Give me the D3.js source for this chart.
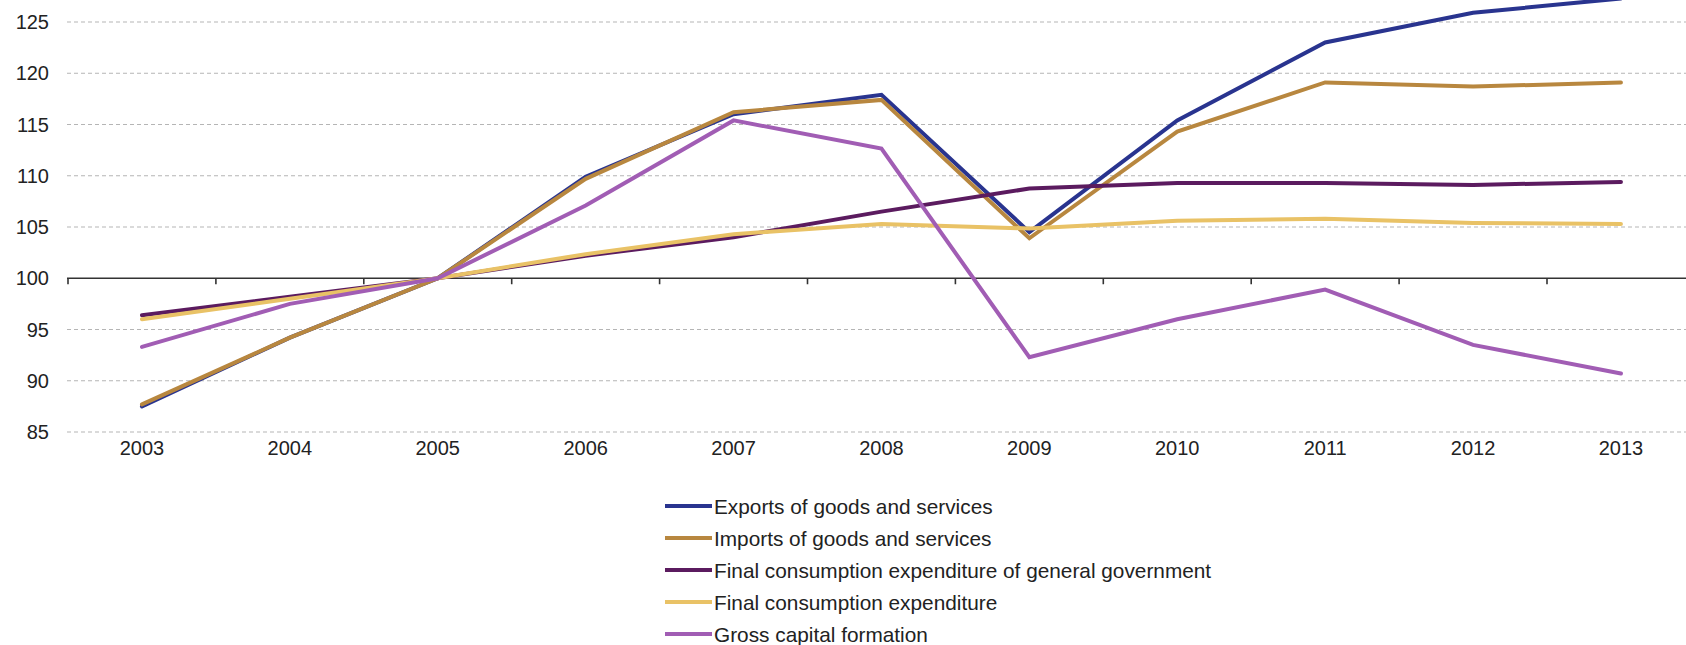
<!DOCTYPE html>
<html>
<head>
<meta charset="utf-8">
<script src="https://cdn.jsdelivr.net/npm/d3@7"></script>
<style>
  html, body { margin: 0; padding: 0; background: #fff; }
  svg { display: block; }
  .axis-label { font-family: "Liberation Sans", Arial, sans-serif; font-size: 20px; fill: #222; }
  .legend-label { font-family: "Liberation Sans", Arial, sans-serif; font-size: 20.8px; fill: #222; }
</style>
</head>
<body>
<svg id="chart" width="1686" height="645"></svg>
<script>
const years = ["2003","2004","2005","2006","2007","2008","2009","2010","2011","2012","2013"];
const yTicks = [85, 90, 95, 100, 105, 110, 115, 120, 125];

const seriesNames = [
  "Exports of goods and services",
  "Imports of goods and services",
  "Final consumption expenditure of general government",
  "Final consumption expenditure",
  "Gross capital formation"
];
const seriesColors = ["#29348f", "#b8873f", "#5b1b5f", "#e9c266", "#a15db4"];

const exportsVals = [87.5, 94.2, 100, 109.9, 116.0, 117.9, 104.5, 115.4, 123.0, 125.9, 127.3];
const importsVals = [87.7, 94.2, 100, 109.7, 116.2, 117.4, 103.9, 114.3, 119.1, 118.7, 119.1];
const govVals     = [96.4, 98.2, 100, 102.2, 104.0, 106.5, 108.75, 109.3, 109.3, 109.1, 109.4];
const finalVals   = [96.0, 98.0, 100, 102.35, 104.3, 105.3, 104.85, 105.6, 105.8, 105.4, 105.3];
const grossVals   = [93.3, 97.5, 100, 107.1, 115.4, 112.65, 92.3, 96.0, 98.9, 93.5, 90.7];

const seriesValues = [exportsVals, importsVals, govVals, finalVals, grossVals];

const svg = d3.select("#chart");
const W = 1686;

const x = d3.scaleBand().domain(years).range([68, 68 + 147.9 * 11]).paddingInner(0).paddingOuter(0);
const y = d3.scaleLinear().domain([85, 125]).range([432, 22]);

// gridlines
svg.append("g").selectAll("line")
  .data(yTicks.filter(t => t !== 100))
  .join("line")
  .attr("x1", 67).attr("x2", W)
  .attr("y1", d => y(d)).attr("y2", d => y(d))
  .attr("stroke", "#b5b5b5").attr("stroke-width", 1)
  .attr("stroke-dasharray", "4,3");

// y labels
svg.append("g").selectAll("text")
  .data(yTicks)
  .join("text")
  .attr("class", "axis-label")
  .attr("x", 49).attr("y", d => y(d))
  .attr("dy", "0.35em")
  .attr("text-anchor", "end")
  .text(d => d);

// x axis at 100
const xAxisG = svg.append("g").attr("transform", `translate(0,${y(100)})`);
xAxisG.append("line")
  .attr("x1", 67).attr("x2", W)
  .attr("stroke", "#333").attr("stroke-width", 1.6);
xAxisG.selectAll("line.tick")
  .data(years)
  .join("line")
  .attr("class", "tick")
  .attr("x1", d => x(d)).attr("x2", d => x(d))
  .attr("y1", 0).attr("y2", 6)
  .attr("stroke", "#333").attr("stroke-width", 1.6);

// x labels at bottom
svg.append("g").selectAll("text")
  .data(years)
  .join("text")
  .attr("class", "axis-label")
  .attr("x", d => x(d) + x.bandwidth() / 2)
  .attr("y", 455)
  .attr("text-anchor", "middle")
  .text(d => d);

// lines
const line = d3.line()
  .x((d, i) => x(years[i]) + x.bandwidth() / 2)
  .y(d => y(d));

svg.append("g").selectAll("path")
  .data(seriesValues)
  .join("path")
  .attr("d", d => line(d))
  .attr("fill", "none")
  .attr("stroke", (d, i) => seriesColors[i])
  .attr("stroke-width", 4)
  .attr("stroke-linejoin", "miter")
  .attr("stroke-linecap", "round");

// legend
const legend = svg.append("g");
const rows = legend.selectAll("g")
  .data(seriesNames)
  .join("g")
  .attr("transform", (d, i) => `translate(665, ${506 + i * 32})`);
rows.append("line")
  .attr("x1", 0).attr("x2", 47)
  .attr("stroke", (d, i) => seriesColors[i])
  .attr("stroke-width", 4);
rows.append("text")
  .attr("class", "legend-label")
  .attr("x", 49).attr("dy", "0.36em")
  .text(d => d);
</script>
</body>
</html>
